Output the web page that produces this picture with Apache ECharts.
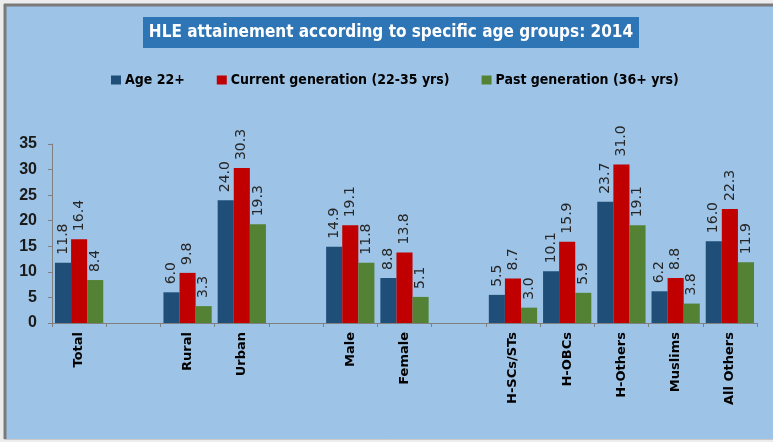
<!DOCTYPE html>
<html><head><meta charset="utf-8">
<script src="https://cdn.jsdelivr.net/npm/echarts@6/dist/echarts.min.js"></script>
<style>html,body{margin:0;padding:0;background:#ececec;overflow:hidden;}#c{width:773px;height:442px;}</style>
</head><body><div id="c"></div>
<script>
const categories = ['Total', '', 'Rural', 'Urban', '', 'Male', 'Female', '', 'H-SCs/STs', 'H-OBCs', 'H-Others', 'Muslims', 'All Others'];
const age22 = [11.8, '-', 6.0, 24.0, '-', 14.9, 8.8, '-', 5.5, 10.1, 23.7, 6.2, 16.0];
const currentGen = [16.4, '-', 9.8, 30.3, '-', 19.1, 13.8, '-', 8.7, 15.9, 31.0, 8.8, 22.3];
const pastGen = [8.4, '-', 3.3, 19.3, '-', 11.8, 5.1, '-', 3.0, 5.9, 19.1, 3.8, 11.9];
const seriesNames = ['Age 22+', 'Current generation (22-35 yrs)', 'Past generation (36+ yrs)'];
const titleText = 'HLE attainement according to specific age groups: 2014';

const chart = echarts.init(document.getElementById('c'), null, {renderer: 'canvas'});
const cond = '"DejaVu Sans Condensed", "DejaVu Sans", sans-serif';
const lbl = {
  show: true, position: 'top', rotate: 90, align: 'left', verticalAlign: 'middle',
  distance: 8, fontFamily: 'DejaVu Sans', fontSize: 14, color: '#262626',
  formatter: p => Number(p.value).toFixed(1)
};
function mk(name, data, color) {
  return { name, type: 'bar', data, barGap: '0%', barCategoryGap: '11%',
    itemStyle: { color }, label: lbl, emphasis: {disabled: true} };
}
chart.setOption({
  animation: false,
  backgroundColor: '#ececec',
  graphic: [
    { type: 'rect', shape: { x: 4, y: 4, width: 790, height: 435 }, style: { fill: '#9dc3e6' }, z: -10 },
    { type: 'line', shape: { x1: 4, y1: 5, x2: 773, y2: 5 }, style: { stroke: '#7a7a7a', lineWidth: 3 }, z: -9 },
    { type: 'line', shape: { x1: 5, y1: 4, x2: 5, y2: 439 }, style: { stroke: '#7a7a7a', lineWidth: 3 }, z: -9 },
    { type: 'line', shape: { x1: 4, y1: 439.5, x2: 773, y2: 439.5 }, style: { stroke: '#c9c9c9', lineWidth: 1 }, z: -9 },
    { type: 'rect', shape: { x: 143, y: 17, width: 496, height: 31 }, style: { fill: '#2e75b6' }, z: 10 },
    { type: 'text', x: 391, y: 33, style: { text: titleText, fill: '#ffffff', font: 'bold 17px ' + cond, align: 'center', verticalAlign: 'middle' }, z: 11 }
  ],
  legend: {
    left: 106, top: 68, itemWidth: 10, itemHeight: 9, itemGap: 32,
    icon: 'rect',
    textStyle: { fontFamily: cond, fontSize: 14, color: '#000', fontWeight: 'bold', padding: [0,0,0,-1] },
    data: seriesNames
  },
  grid: { left: 52, right: 16, top: 144, bottom: 119 },
  xAxis: {
    type: 'category', data: categories,
    axisLine: { lineStyle: { color: '#808080' } },
    axisTick: { show: true, length: 4, lineStyle: { color: '#808080' } },
    axisLabel: { interval: 0, rotate: 90, fontFamily: 'DejaVu Sans', fontWeight: 'bold', fontSize: 13, color: '#000', margin: 9 }
  },
  yAxis: {
    type: 'value', min: 0, max: 35, interval: 5,
    axisLine: { show: true, lineStyle: { color: '#808080' } },
    axisTick: { show: true, length: 4, lineStyle: { color: '#808080' } },
    splitLine: { show: false },
    axisLabel: { fontFamily: 'Liberation Sans', fontWeight: 'bold', fontSize: 16, color: '#1a1a1a', margin: 15 }
  },
  series: [
    mk(seriesNames[0], age22, '#1f4e79'),
    mk(seriesNames[1], currentGen, '#c00000'),
    mk(seriesNames[2], pastGen, '#548235')
  ]
});
</script></body></html>
